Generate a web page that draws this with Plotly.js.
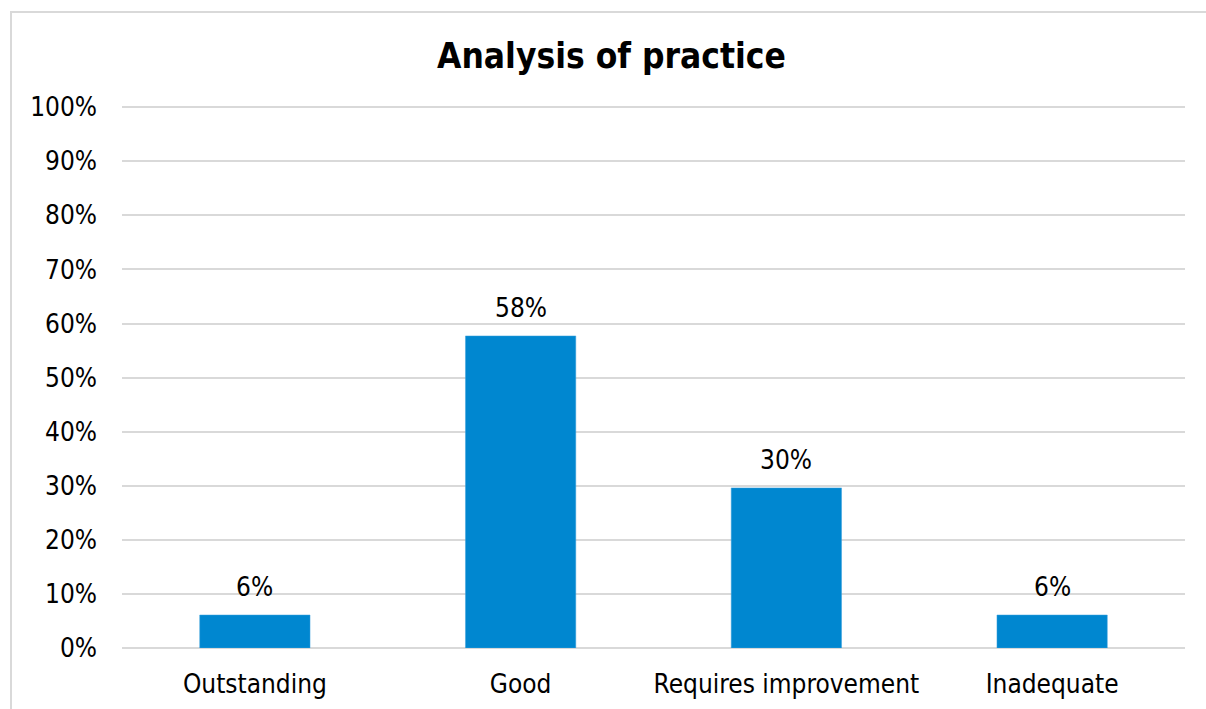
<!DOCTYPE html>
<html>
<head>
<meta charset="utf-8">
<script src="https://cdn.plot.ly/plotly-3.0.1.min.js"></script>
<style>
html,body{margin:0;padding:0;background:#fff;overflow:hidden;}
#frame{position:absolute;left:10px;top:11px;width:1300px;height:800px;border-left:2px solid #d9d9d9;border-top:2px solid #d9d9d9;box-sizing:border-box;}
#chart{position:absolute;left:0;top:0;width:1206px;height:709px;}
</style>
</head>
<body>
<div id="frame"></div>
<div id="chart"></div>
<script>
const categories = ["Outstanding", "Good", "Requires improvement", "Inadequate"];
const values = [0.061, 0.577, 0.296, 0.061];
const labels = ["6%", "58%", "30%", "6%"];
const tickValues = [0, 0.1, 0.2, 0.3, 0.4, 0.5, 0.6, 0.7, 0.8, 0.9, 1.0];
const tickLabels = ["0%", "10%", "20%", "30%", "40%", "50%", "60%", "70%", "80%", "90%", "100%"];

const FONT = '"DejaVu Sans Condensed", "DejaVu Sans", sans-serif';

const trace = {
  type: 'bar',
  x: categories,
  y: values,
  marker: {color: '#0087D0', line: {color: '#3aa0dd', width: 0.5}},
  hoverinfo: 'none'
};

const annotations = categories.map((c, i) => ({
  x: c, y: values[i], xref: 'x', yref: 'y',
  text: labels[i], showarrow: false,
  yanchor: 'bottom', yshift: 11,
  font: {family: FONT, size: 26, color: '#000'}
}));

const layout = {
  width: 1206, height: 709,
  paper_bgcolor: 'rgba(0,0,0,0)',
  plot_bgcolor: 'rgba(0,0,0,0)',
  margin: {l: 122, r: 21, t: 105, b: 61},
  title: {
    text: '<b>Analysis of practice</b>',
    x: 0.507, xanchor: 'center', y: 0.921, yanchor: 'middle',
    font: {family: FONT, size: 35, color: '#000'}
  },
  bargap: 0.585,
  showlegend: false,
  xaxis: {
    type: 'category',
    showgrid: false, showline: false, zeroline: false,
    ticks: '', ticklen: 0,
    tickfont: {family: FONT, size: 26, color: '#000'},
    ticklabelstandoff: 18
  },
  yaxis: {
    range: [0, 1.004],
    tickvals: tickValues, ticktext: tickLabels,
    showgrid: true, gridcolor: '#d9d9d9', gridwidth: 2,
    zeroline: true, zerolinecolor: '#d9d9d9', zerolinewidth: 2,
    showline: false, ticks: '',
    tickfont: {family: FONT, size: 26, color: '#000'},
    ticklabelstandoff: 24
  },
  annotations: annotations
};

Plotly.newPlot('chart', [trace], layout, {displayModeBar: false, staticPlot: true});
</script>
</body>
</html>
